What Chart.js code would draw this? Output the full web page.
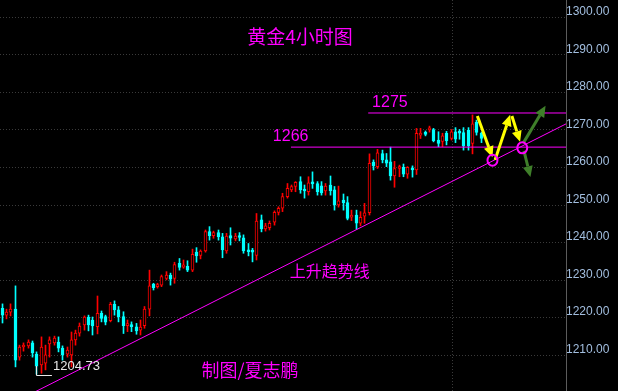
<!DOCTYPE html>
<html>
<head>
<meta charset="utf-8">
<script src="https://cdn.jsdelivr.net/npm/chart.js@4.4.1/dist/chart.umd.min.js"></script>
<style>
  html, body { margin: 0; padding: 0; background: #000; }
  #wrap { width: 618px; height: 391px; position: relative; }
</style>
</head>
<body>
<div id="wrap"><canvas id="goldChart"></canvas></div>
<script>
// 4h candles, oldest first
const openPrices = [
  1222.3, 1220.5, 1221.3, 1222.1, 1209.3, 1212.0, 1212.3, 1213.1, 1210.1, 1207.2,
  1207.7, 1212.8, 1213.1, 1213.3, 1211.7, 1210.1, 1209.9, 1213.9, 1215.7, 1217.9,
  1220.0, 1219.2, 1217.4, 1221.0, 1220.1, 1219.0, 1223.4, 1221.9, 1220.1, 1217.7,
  1218.0, 1217.4, 1216.5, 1217.7, 1222.1, 1228.8, 1228.1, 1228.5, 1230.3, 1231.2,
  1230.3, 1234.3, 1233.3, 1233.5, 1232.5, 1237.3, 1236.4, 1237.6, 1242.8, 1241.7,
  1242.5, 1241.4, 1237.6, 1241.7, 1240.8, 1241.6, 1241.1, 1237.7, 1237.6, 1236.4,
  1245.9, 1243.5, 1243.8, 1245.3, 1247.9, 1249.0, 1252.1, 1253.9, 1254.8, 1256.1,
  1254.1, 1253.4, 1255.8, 1255.6, 1255.0, 1253.6, 1255.2, 1253.9, 1249.9, 1251.2,
  1250.5, 1246.6, 1247.2, 1245.0, 1246.9, 1247.8, 1261.3, 1260.1, 1263.6, 1261.9,
  1261.4, 1257.6, 1259.6, 1259.9, 1258.1, 1259.4, 1259.2, 1268.5, 1269.1, 1269.9,
  1270.0, 1267.2, 1266.8, 1269.0, 1267.6, 1269.4, 1269.4, 1269.2, 1269.8, 1266.3,
  1271.9, 1269.0
];
const highPrices = [
  1223.5, 1222.1, 1223.5, 1228.3, 1212.5, 1213.1, 1213.9, 1213.6, 1210.7, 1214.7,
  1212.5, 1214.7, 1214.9, 1214.7, 1212.3, 1212.0, 1216.0, 1216.5, 1218.4, 1220.3,
  1220.5, 1220.0, 1225.6, 1221.6, 1220.5, 1223.9, 1224.3, 1222.8, 1221.4, 1219.2,
  1218.7, 1218.3, 1219.2, 1222.8, 1232.5, 1229.0, 1229.0, 1231.2, 1232.1, 1231.7,
  1234.6, 1235.6, 1235.2, 1235.0, 1238.1, 1238.5, 1237.9, 1243.2, 1244.1, 1242.9,
  1243.2, 1242.3, 1242.3, 1243.8, 1242.3, 1242.5, 1241.9, 1239.6, 1238.3, 1247.6,
  1247.2, 1245.0, 1245.6, 1248.3, 1249.4, 1253.0, 1255.6, 1255.2, 1256.1, 1257.4,
  1255.2, 1257.4, 1258.7, 1256.1, 1256.1, 1255.6, 1257.6, 1254.8, 1254.9, 1252.8,
  1252.1, 1248.5, 1248.5, 1248.1, 1250.3, 1263.5, 1261.9, 1264.7, 1264.5, 1263.6,
  1265.3, 1261.5, 1260.5, 1260.8, 1260.1, 1260.3, 1270.3, 1270.3, 1269.6, 1270.9,
  1270.3, 1269.4, 1269.0, 1269.5, 1270.0, 1270.5, 1270.0, 1270.5, 1270.5, 1273.9,
  1272.5, 1269.3
];
const lowPrices = [
  1218.4, 1219.5, 1220.3, 1206.7, 1208.5, 1210.9, 1211.7, 1209.3, 1204.73, 1205.0,
  1205.9, 1209.3, 1212.5, 1210.7, 1208.5, 1209.3, 1206.7, 1212.5, 1214.9, 1216.5,
  1216.3, 1215.2, 1215.5, 1218.7, 1217.9, 1218.7, 1220.5, 1218.7, 1215.6, 1216.1,
  1216.1, 1215.4, 1215.2, 1217.0, 1220.3, 1227.2, 1227.7, 1228.1, 1229.9, 1228.5,
  1229.0, 1232.5, 1233.0, 1232.1, 1232.1, 1234.6, 1235.5, 1237.3, 1240.5, 1241.0,
  1240.5, 1235.8, 1237.0, 1239.2, 1240.3, 1240.3, 1237.0, 1236.3, 1234.7, 1235.2,
  1242.7, 1242.9, 1243.2, 1244.5, 1247.2, 1248.1, 1251.7, 1253.4, 1253.4, 1253.0,
  1251.7, 1252.5, 1254.3, 1252.5, 1252.5, 1252.5, 1252.5, 1248.5, 1249.3, 1248.5,
  1245.9, 1245.7, 1243.4, 1244.3, 1245.0, 1247.2, 1259.2, 1259.6, 1261.1, 1260.1,
  1256.5, 1254.6, 1257.4, 1257.4, 1257.0, 1257.3, 1258.0, 1267.6, 1268.3, 1269.3,
  1266.7, 1265.4, 1265.4, 1265.9, 1267.2, 1266.5, 1267.4, 1264.5, 1264.5, 1263.5,
  1268.5, 1266.5
];
const closePrices = [
  1220.5, 1221.3, 1222.1, 1208.5, 1212.0, 1212.5, 1213.3, 1210.4, 1206.9, 1212.0,
  1209.9, 1213.9, 1214.4, 1211.7, 1209.9, 1211.2, 1213.9, 1215.7, 1217.6, 1220.0,
  1217.9, 1217.6, 1221.0, 1219.6, 1218.6, 1223.4, 1221.9, 1220.1, 1217.7, 1218.0,
  1217.4, 1216.3, 1217.3, 1222.1, 1228.3, 1227.8, 1228.5, 1230.8, 1231.2, 1230.1,
  1234.0, 1233.2, 1233.9, 1232.5, 1236.7, 1236.3, 1237.6, 1242.8, 1241.7, 1242.5,
  1241.4, 1237.9, 1241.6, 1241.0, 1241.6, 1241.2, 1237.6, 1237.4, 1237.3, 1245.6,
  1243.5, 1244.3, 1245.0, 1247.9, 1249.0, 1252.1, 1254.3, 1254.8, 1255.9, 1253.9,
  1253.6, 1255.8, 1255.5, 1253.4, 1253.1, 1254.9, 1253.7, 1249.9, 1251.0, 1250.5,
  1246.3, 1247.2, 1245.0, 1246.6, 1247.8, 1261.0, 1260.3, 1263.8, 1261.9, 1261.0,
  1257.6, 1259.6, 1260.1, 1258.1, 1259.9, 1259.2, 1269.0, 1269.0, 1268.7, 1270.3,
  1267.0, 1266.3, 1268.3, 1267.0, 1269.4, 1267.4, 1269.0, 1265.6, 1265.7, 1271.5,
  1269.2, 1267.6
];
const yTicks = [1300, 1290, 1280, 1270, 1260, 1250, 1240, 1230, 1220, 1210];

// drawn lines (x = candle index)
const trendX = [7, 131];
const trendY = [1199.7, 1271.7];
const resistX = [84.8, 131];
const resistY = [1274.4, 1274.4];
const supportX = [66.9, 131];
const supportY = [1265.3, 1265.3];
const lowMark = 1204.73;

const UP = '#ff0000';
const DOWN = '#00ffff';
const PINK = '#ff00ff';

const idx = openPrices.map((_, i) => i);
const isUp = idx.map(i => closePrices[i] >= openPrices[i]);
const pts = (xs, ys) => xs.map((x, i) => ({ x: x, y: ys[i] }));

function arrow(ctx, x1, y1, x2, y2, color) {
  const ang = Math.atan2(y2 - y1, x2 - x1);
  const head = 11, half = 5;
  const bx = x2 - head * Math.cos(ang), by = y2 - head * Math.sin(ang);
  ctx.strokeStyle = color;
  ctx.fillStyle = color;
  ctx.lineWidth = 3;
  ctx.beginPath(); ctx.moveTo(x1, y1); ctx.lineTo(bx, by); ctx.stroke();
  ctx.beginPath();
  ctx.moveTo(x2, y2);
  ctx.lineTo(bx + half * Math.sin(ang), by - half * Math.cos(ang));
  ctx.lineTo(bx - half * Math.sin(ang), by + half * Math.cos(ang));
  ctx.closePath();
  ctx.fill();
}

// keep candles on whole pixels so they stay sharp
const snapBars = {
  id: 'snapBars',
  afterDatasetsUpdate(chart) {
    chart.data.datasets.forEach((ds, i) => {
      const meta = chart.getDatasetMeta(i);
      if (meta.type !== 'bar') return;
      meta.data.forEach(el => { el.x = Math.floor(el.x) + 0.5; });
    });
  }
};

const overlay = {
  id: 'overlay',
  beforeDatasetsDraw(chart) {
    const { ctx, chartArea: a, scales: { x, y } } = chart;
    ctx.save();
    ctx.strokeStyle = '#3a3a3a';
    ctx.lineWidth = 1;
    ctx.setLineDash([1, 2]);
    yTicks.forEach(v => {
      const py = Math.round(y.getPixelForValue(v)) + 0.5;
      ctx.beginPath(); ctx.moveTo(a.left, py); ctx.lineTo(a.right, py); ctx.stroke();
    });
    const vx = Math.round(x.getPixelForValue(104.2)) + 0.5;
    ctx.beginPath(); ctx.moveTo(vx, a.top); ctx.lineTo(vx, a.bottom); ctx.stroke();
    ctx.setLineDash([]);
    ctx.strokeStyle = '#5c5c5c';
    ctx.beginPath(); ctx.moveTo(a.right + 0.5, 0); ctx.lineTo(a.right + 0.5, chart.height); ctx.stroke();
    ctx.restore();
  },
  afterDatasetsDraw(chart) {
    const { ctx, scales: { x, y } } = chart;
    const X = v => x.getPixelForValue(v);
    const Y = v => y.getPixelForValue(v);
    ctx.save();

    // low marker
    ctx.strokeStyle = '#e8e8e8';
    ctx.lineWidth = 1;
    const mx = Math.floor(X(8)) + 0.5, my = Math.round(Y(lowMark - 0.2)) + 0.5;
    ctx.beginPath();
    ctx.moveTo(mx, Math.round(Y(1207.0)));
    ctx.lineTo(mx, my);
    ctx.lineTo(X(11.5), my);
    ctx.stroke();
    ctx.fillStyle = '#e8e8e8';
    ctx.font = '13px "Liberation Sans", Arial, sans-serif';
    ctx.textAlign = 'left';
    ctx.textBaseline = 'middle';
    ctx.fillText(lowMark.toFixed(2), X(11.75), Y(1206.7));

    // labels
    ctx.fillStyle = PINK;
    ctx.font = '16px "Liberation Sans", Arial, sans-serif';
    ctx.fillText('1275', X(85.7), Y(1277.1));
    ctx.fillText('1266', X(62.7), Y(1268.0));
    ctx.textAlign = 'center';
    ctx.font = '19px "Noto Sans CJK SC", sans-serif';
    ctx.fillText('黄金4小时图', X(69.0), Y(1294.7));
    ctx.font = '16px "Noto Sans CJK SC", sans-serif';
    ctx.fillText('上升趋势线', X(75.9), Y(1232.3));
    ctx.font = '18px "Noto Sans CJK SC", sans-serif';
    ctx.fillText('制图/夏志鹏', X(57.4), Y(1205.9));

    // projected path
    const yellow = [[110.1, 1273.6, 113.6, 1262.6], [114.2, 1261.9, 117.7, 1273.9], [118.1, 1273.6, 120.0, 1266.7]];
    const green = [[120.7, 1266.3, 125.9, 1276.3], [120.9, 1264.3, 122.4, 1257.3]];
    yellow.forEach(s => arrow(ctx, X(s[0]), Y(s[1]), X(s[2]), Y(s[3]), '#ffff00'));
    green.forEach(s => arrow(ctx, X(s[0]), Y(s[1]), X(s[2]), Y(s[3]), '#3f7f2a'));

    ctx.strokeStyle = PINK;
    ctx.lineWidth = 2;
    [[113.6, 1261.8], [120.5, 1265.1]].forEach(c => {
      ctx.beginPath();
      ctx.ellipse(X(c[0]), Y(c[1]), 5, 5.5, 0, 0, Math.PI * 2);
      ctx.stroke();
    });
    ctx.restore();
  }
};

new Chart(document.getElementById('goldChart').getContext('2d'), {
  type: 'bar',
  data: {
    datasets: [
      { type: 'line', data: pts(trendX, trendY), borderColor: PINK, borderWidth: 1, pointRadius: 0, order: 0 },
      { type: 'line', data: pts(resistX, resistY), borderColor: PINK, borderWidth: 1, pointRadius: 0, order: 0 },
      { type: 'line', data: pts(supportX, supportY), borderColor: PINK, borderWidth: 1, pointRadius: 0, order: 0 },
      {
        label: 'body',
        data: idx.map(i => ({ x: i, y: [openPrices[i], closePrices[i]] })),
        backgroundColor: isUp.map(u => u ? '#000000' : DOWN),
        borderColor: isUp.map(u => u ? UP : DOWN),
        borderWidth: 1,
        borderSkipped: false,
        barThickness: 3,
        minBarLength: 2,
        grouped: false,
        order: 1
      },
      {
        label: 'wick',
        data: idx.map(i => ({ x: i, y: [lowPrices[i], highPrices[i]] })),
        backgroundColor: isUp.map(u => u ? UP : DOWN),
        barThickness: 1,
        grouped: false,
        order: 2
      }
    ]
  },
  options: {
    responsive: true,
    maintainAspectRatio: false,
    animation: false,
    events: [],
    layout: { padding: 0 },
    plugins: { legend: { display: false }, tooltip: { enabled: false } },
    scales: {
      x: {
        type: 'linear',
        min: -0.533,
        max: 130.64,
        offset: false,
        display: false
      },
      y: {
        position: 'right',
        min: 1200.27,
        max: 1304.53,
        afterBuildTicks: s => { s.ticks = yTicks.map(v => ({ value: v })); },
        afterFit: s => { s.width = 52; s.paddingTop = 0; s.paddingBottom = 0; },
        grid: { display: false },
        border: { display: false },
        ticks: {
          color: '#a3bfe0',
          font: { family: 'Liberation Sans', size: 12 },
          padding: -8,
          labelOffset: -5,
          autoSkip: false,
          callback: v => v.toFixed(2)
        }
      }
    }
  },
  plugins: [snapBars, overlay]
});
</script>
</body>
</html>
